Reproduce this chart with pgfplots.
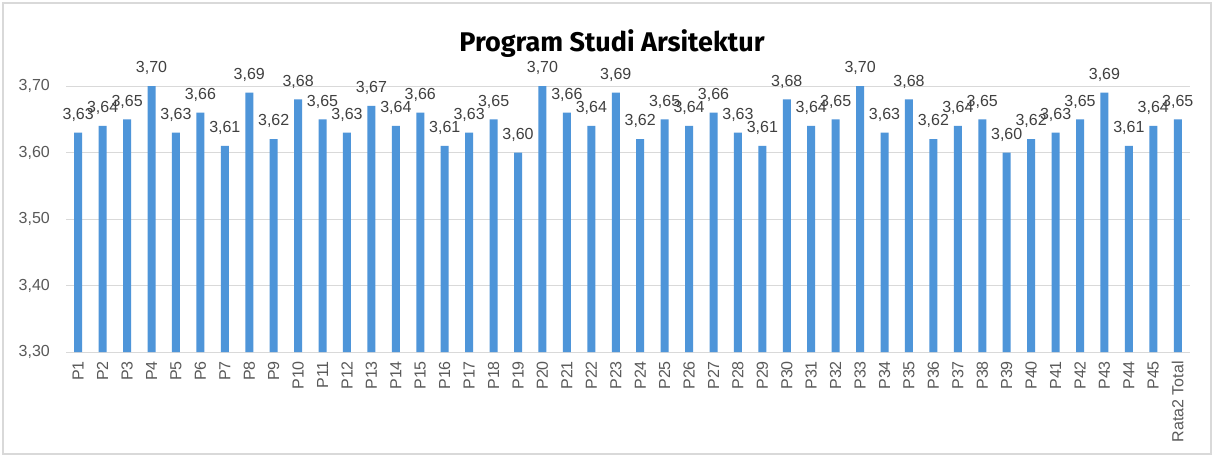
\documentclass[border=0pt]{standalone}
\usepackage{fontspec}
\setmainfont{Liberation Sans}
\newfontfamily\titlefont{Fira Sans}
\usepackage{pgfplots}
\pgfplotsset{compat=1.18}
\definecolor{barblue}{RGB}{78,149,217}
\definecolor{gridgray}{RGB}{217,217,217}
\definecolor{ticktext}{RGB}{89,89,89}
\definecolor{lbltext}{RGB}{64,64,64}
\definecolor{framegray}{RGB}{217,217,217}
\begin{document}
\begin{tikzpicture}
\useasboundingbox (-66bp,-105bp) rectangle (1148bp,352bp);
\fill[white] (-66bp,-105bp) rectangle (1148bp,352bp);
\draw[framegray, line width=1.5bp] (-63bp,-102bp) rectangle (1145bp,349bp);
\begin{axis}[
  at={(0,0)}, anchor=south west, scale only axis,
  width=1124bp, height=266bp,
  xmin=-0.5, xmax=45.5, ymin=3.3, ymax=3.7,
  ytick={3.3,3.4,3.5,3.6,3.7},
  xtick={0,...,45},
  xticklabels={P1,P2,P3,P4,P5,P6,P7,P8,P9,P10,P11,P12,P13,P14,P15,P16,P17,P18,P19,P20,P21,P22,P23,P24,P25,P26,P27,P28,P29,P30,P31,P32,P33,P34,P35,P36,P37,P38,P39,P40,P41,P42,P43,P44,P45,Rata2 Total},
  ybar, bar width=8bp,
  axis line style={draw=none},
  major tick length=0pt,
  ymajorgrids, grid style={gridgray, line width=1bp},
  /pgf/number format/.cd, fixed, fixed zerofill, precision=2, use comma, assume math mode=true,
  /pgfplots/.cd,
  tick label style={font=\fontsize{16bp}{19bp}\selectfont, text=ticktext},
  xticklabel style={yshift=-9bp, rotate=90, anchor=east, inner sep=0pt},
  yticklabel style={xshift=-16bp, anchor=east, inner sep=0pt},
  nodes near coords,
  every node near coord/.append style={font=\fontsize{16bp}{19bp}\selectfont, text=lbltext, inner sep=0pt, yshift=11bp},
]
\addplot[fill=barblue, draw=none] coordinates {
(0,3.63) (1,3.64) (2,3.65) (3,3.70) (4,3.63) (5,3.66) (6,3.61) (7,3.69) (8,3.62) (9,3.68)
(10,3.65) (11,3.63) (12,3.67) (13,3.64) (14,3.66) (15,3.61) (16,3.63) (17,3.65) (18,3.60) (19,3.70)
(20,3.66) (21,3.64) (22,3.69) (23,3.62) (24,3.65) (25,3.64) (26,3.66) (27,3.63) (28,3.61) (29,3.68)
(30,3.64) (31,3.65) (32,3.70) (33,3.63) (34,3.68) (35,3.62) (36,3.64) (37,3.65) (38,3.60) (39,3.62)
(40,3.63) (41,3.65) (42,3.69) (43,3.61) (44,3.64) (45,3.65)
};
\end{axis}
\node[font=\titlefont\bfseries\fontsize{27bp}{31bp}\selectfont, text=black, anchor=base, inner sep=0pt] at (546bp,300bp) {Program Studi Arsitektur};
\end{tikzpicture}
\end{document}
